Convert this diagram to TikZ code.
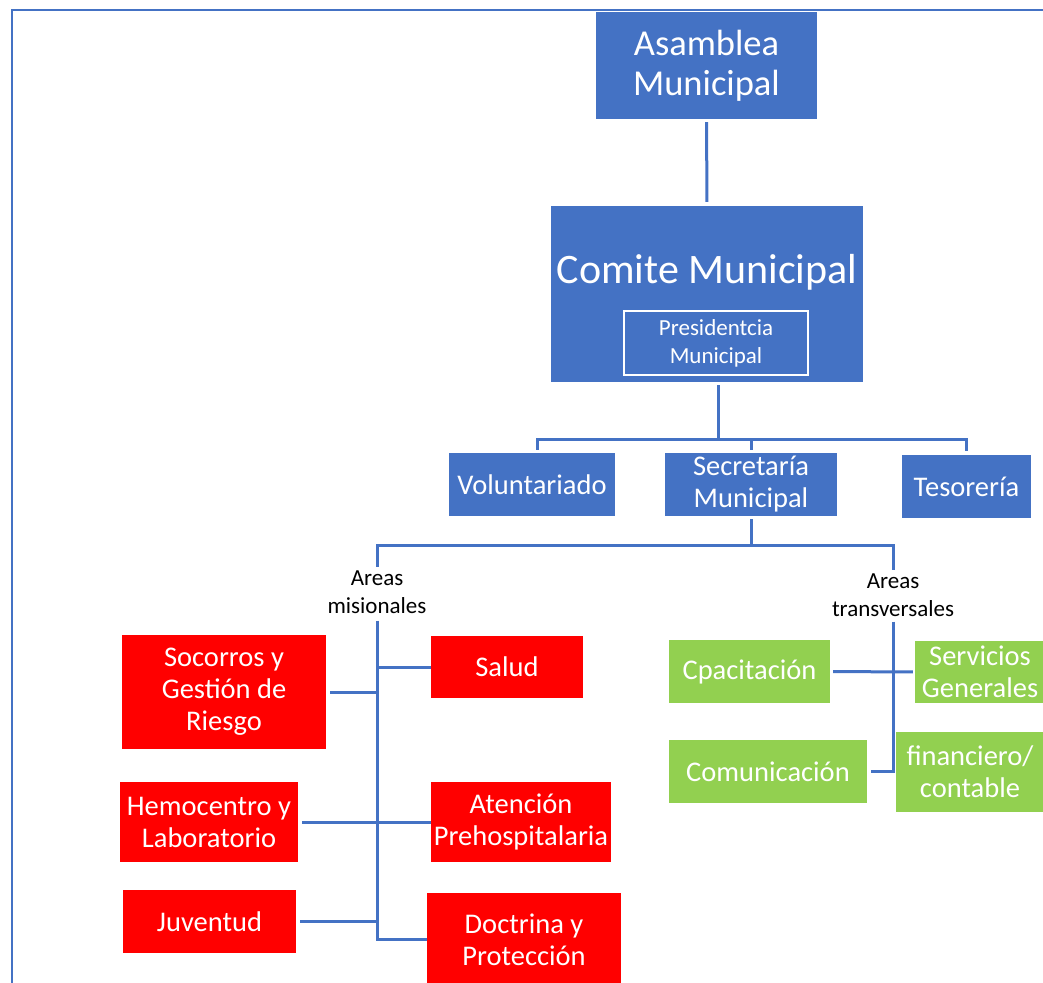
\documentclass[tikz,border=0pt]{standalone}
\usepackage{fontspec}
\setmainfont{Carlito}
\usetikzlibrary{calc}
\definecolor{cblue}{HTML}{4472C4}
\definecolor{cred}{HTML}{FF0000}
\definecolor{cgreen}{HTML}{92D050}
\definecolor{cline}{HTML}{4472C4}
\tikzset{
  boxbase/.style={text=white, align=center, inner sep=0pt, font=\fontsize{28.5}{32}\selectfont},
  bbox/.style={boxbase, fill=cblue},
  rbox/.style={boxbase, fill=cred},
  gbox/.style={boxbase, fill=cgreen},
  arealabel/.style={text=black, align=center, inner sep=3pt, font=\fontsize{23}{28}\selectfont},
  conn/.style={draw=cline, line width=3pt},
  frame/.style={draw=cblue, line width=2.5pt}
}
\begin{document}
\begin{tikzpicture}[x=1pt,y=-1pt]
\useasboundingbox (0,0) rectangle (1043,982);
\draw[frame] (12,990) -- (12,10) -- (1050,10);

% top level
\node[bbox, font=\fontsize{36.5}{40}\selectfont, minimum width=221pt, minimum height=107pt] (asam) at (706.5,65.5) {Asamblea\\Municipal};
\node[bbox, minimum width=312pt, minimum height=176pt] (comite) at (707,294) {};
\node[anchor=base, text=white, inner sep=0pt, font=\fontsize{42}{48}\selectfont] (comitet) at (707,283) {Comite Municipal};
\node[draw=white, line width=2pt, text=white, align=center, inner sep=0pt, font=\fontsize{23}{28}\selectfont, minimum width=184pt, minimum height=64pt] (pres) at (716,343) {Presidentcia\\Municipal};

% second level
\node[bbox, minimum width=166pt, minimum height=63pt] (vol) at (532,484.5) {Voluntariado};
\node[bbox, minimum width=172pt, minimum height=63pt] (sec) at (751,484.5) {Secretaría\\Municipal};
\node[bbox, minimum width=129pt, minimum height=63pt] (tes) at (966.5,486.5) {Tesorería};

% area labels
\node[arealabel] (mis) at (377,592) {Areas\\misionales};
\node[arealabel] (trans) at (893,595) {Areas\\transversales};

% red boxes
\node[rbox, minimum width=204pt, minimum height=114pt] (soc) at (224,692) {Socorros y\\Gestión de\\Riesgo};
\node[rbox, minimum width=152pt, minimum height=62pt] (sal) at (507,667) {Salud};
\node[rbox, minimum width=178pt, minimum height=80pt] (hem) at (209,822) {Hemocentro y\\Laboratorio};
\node[rbox, minimum width=180pt, minimum height=80pt] (ate) at (521,822) {Atención\\Prehospitalaria};
\node[rbox, minimum width=173pt, minimum height=63pt] (juv) at (209.5,921.5) {Juventud};
\node[rbox, minimum width=194pt, minimum height=93pt] (doc) at (524,939.5) {Doctrina y\\Protección};

% green boxes
\node[gbox, minimum width=161pt, minimum height=63pt] (cap) at (749.5,671.5) {Cpacitación};
\node[gbox, minimum width=130pt, minimum height=62pt] (ser) at (980,672) {Servicios\\Generales};
\node[gbox, minimum width=198pt, minimum height=63pt] (com) at (768,771.5) {Comunicación};
\node[gbox, minimum width=148pt, minimum height=80pt] (fin) at (970,772) {financiero/\\contable};

% connectors: top
\draw[conn, shorten <=3pt, shorten >=4pt] (asam.south) -- (comite.north);
\coordinate (b1) at (718,439);
\draw[conn, shorten <=3pt] (comite.south -| b1) -- (b1);
\draw[conn] ($(vol.north)+(5,-3)$) |- (b1) -| ($(tes.north)+(0,-4)$);
\draw[conn] (b1) -| ($(sec.north)+(0,-3)$);

% connectors: secretaria
\coordinate (b2) at (751,545);
\draw[conn, shorten <=3pt] (sec.south) -- (b2);
\draw[conn] (b2) -| (mis.north);
\draw[conn] (b2) -| (trans.north);

% left spine
\draw[conn] ($(mis.south)+(0,4)$) |- (doc.west);
\draw[conn] (sal.west) -- (sal.west -| mis.south);
\draw[conn, shorten <=4pt] (soc.east) -- (soc.east -| mis.south);
\draw[conn, shorten <=4pt] (hem.east) -- (ate.west);
\draw[conn, shorten <=4pt] (juv.east) -- (juv.east -| mis.south);

% right spine
\draw[conn] ($(trans.south)+(0,2)$) |- ($(com.east)+(4,0)$);
\draw[conn, shorten <=3pt, shorten >=2pt] (cap.east) -- (ser.west);
\end{tikzpicture}
\end{document}
